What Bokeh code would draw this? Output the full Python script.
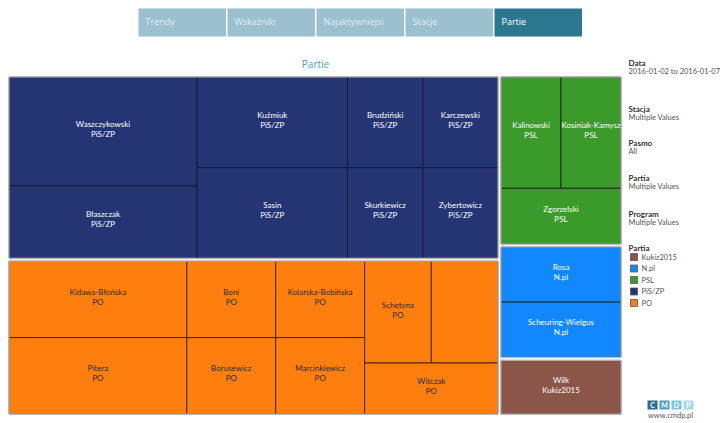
from bokeh.plotting import figure
from bokeh.models import Range1d, ColumnDataSource
from bokeh.embed import file_html
from bokeh.resources import INLINE
from bokeh.core.properties import value

# ---------------- data ----------------
parties = ["PiS/ZP", "PO", "PSL", "N.pl", "Kukiz2015"]
party_colors = ["#253574", "#FF7F0E", "#3A9A2A", "#1188FF", "#8B5549"]
label_colors = ["#FFFFFF", "#2B2B2B", "#FFFFFF", "#FFFFFF", "#FFFFFF"]

pis_names = ["Waszczykowski", "Błaszczak", "Kuźmiuk", "Sasin", "Brudziński",
             "Karczewski", "Skurkiewicz", "Zybertowicz"]
pis_values = [3, 2, 2, 2, 1, 1, 1, 1]
po_names = ["Kidawa-Błońska", "Pitera", "Boni", "Borusewicz", "Kolarska-Bobińska",
            "Marcinkiewicz", "Schetyna", "", "Witczak"]
po_values = [2, 2, 1, 1, 1, 1, 1, 1, 1]
psl_names = ["Kalinowski", "Kosiniak-Kamysz", "Zgorzelski"]
psl_values = [1, 1, 1]
npl_names = ["Rosa", "Scheuring-Wielgus"]
npl_values = [1, 1]
kukiz_names = ["Wilk"]
kukiz_values = [1]

candidate_names = [pis_names, po_names, psl_names, npl_names, kukiz_names]
candidate_values = [pis_values, po_values, psl_values, npl_values, kukiz_values]

legend_order = ["Kukiz2015", "N.pl", "PSL", "PiS/ZP", "PO"]
tabs = ["Trendy", "Wskaźniki", "Najaktywniejsi", "Stacje", "Partie"]
active_tab = "Partie"
filter_titles = ["Data", "Stacja", "Pasmo", "Partia", "Program"]
filter_values = ["2016-01-02 to 2016-01-07", "Multiple Values", "All",
                 "Multiple Values", "Multiple Values"]
title = "Partie"
logo_letters = ["C", "M", "D", "P"]
logo_colors = ["#2E6F8E", "#4E9CC0", "#7EC3E0", "#A8D9EE"]
logo_url = "www.cmdp.pl"

FONT = value("Lato")
TAB_FONT = value("Open Sans")


# ---------------- treemap layout (squarified strips) ----------------
def layout(values, x0, y0, x1, y1):
    rects = [None] * len(values)
    remaining = list(range(len(values)))
    while remaining:
        w, h = x1 - x0, y1 - y0
        if len(remaining) == 1:
            rects[remaining[0]] = (x0, y0, x1, y1)
            break
        rem_total = float(sum(values[i] for i in remaining))
        vertical = w >= h

        def strip_worst(k):
            s = sum(values[i] for i in remaining[:k])
            out = []
            for i in remaining[:k]:
                if vertical:
                    a, b = w * s / rem_total, h * values[i] / s
                else:
                    a, b = w * values[i] / s, h * s / rem_total
                out.append(max(a / b, b / a))
            return max(out)

        k, cur = 1, strip_worst(1)
        while k < len(remaining):
            nxt = strip_worst(k + 1)
            if nxt <= cur or (k == 1 and nxt <= 3.25):
                k, cur = k + 1, nxt
            else:
                break
        strip = remaining[:k]
        s = float(sum(values[i] for i in strip))
        if vertical:
            sw = w * s / rem_total
            yy = y0
            for i in strip:
                ih = h * values[i] / s
                rects[i] = (x0, yy, x0 + sw, yy + ih)
                yy += ih
            x0 += sw
        else:
            sh = h * s / rem_total
            xx = x0
            for i in strip:
                iw = w * values[i] / s
                rects[i] = (xx, y0, xx + iw, y0 + sh)
                xx += iw
            y0 += sh
        remaining = remaining[k:]
    return rects


# ---------------- figure ----------------
W, H = 720, 423
p = figure(width=W, height=H, x_range=Range1d(0, W), y_range=Range1d(H, 0),
           output_backend="svg", toolbar_location=None, min_border=0,
           x_axis_type=None, y_axis_type=None)
p.outline_line_color = None
p.background_fill_color = "white"
p.border_fill_color = "white"

# navigation tabs
tab_x = [138 + i * 89 for i in range(len(tabs))]
tab_fill = ["#2B778F" if t == active_tab else "#9BC0CE" for t in tabs]
tab_text = ["#FFFFFF" if t == active_tab else "#E0EDF2" for t in tabs]
p.quad(left=tab_x, right=[x + 87.5 for x in tab_x], top=[8] * len(tabs), bottom=[36] * len(tabs),
       fill_color=tab_fill, line_color=None)
p.text(x=[x + 7 for x in tab_x], y=[20.5] * len(tabs), text=tabs, text_color=tab_text,
       text_font=TAB_FONT, text_font_size="9px", text_baseline="middle", text_align="left")

# title
p.text(x=[315], y=[63.5], text=[title], text_color="#4A9BC4", text_font=TAB_FONT,
       text_font_size="10px", text_align="center", text_baseline="middle")

# treemap
party_totals = [sum(v) for v in candidate_values]
party_rects = layout(party_totals, 7, 75, 622, 415)
inset = 1.5
cl, cr, ct, cb, cc, names_lbl, party_lbl, lx, ly, lc = [], [], [], [], [], [], [], [], [], []
pl, pr, pt, pb = [], [], [], []
for pi, (x0, y0, x1, y1) in enumerate(party_rects):
    x0, y0, x1, y1 = x0 + inset, y0 + inset, x1 - inset, y1 - inset
    pl.append(x0); pr.append(x1); pt.append(y0); pb.append(y1)
    rects = layout(candidate_values[pi], x0, y0, x1, y1)
    for ci, (a, b, c, d) in enumerate(rects):
        cl.append(a); cr.append(c); ct.append(b); cb.append(d)
        cc.append(party_colors[pi])
        nm = candidate_names[pi][ci]
        if nm:
            names_lbl.append(nm)
            party_lbl.append(parties[pi])
            lx.append((a + c) / 2)
            ly.append((b + d) / 2)
            lc.append(label_colors[pi])

p.quad(left=cl, right=cr, top=ct, bottom=cb, fill_color=cc, line_color="#111111",
       line_alpha=0.75, line_width=1)
p.quad(left=pl, right=pr, top=pt, bottom=pb, fill_color=None, line_color="#C8C8C8", line_width=1)

src = ColumnDataSource(dict(x=lx, y1=[y - 7.5 for y in ly], y2=[y + 2.5 for y in ly],
                            n=names_lbl, pa=party_lbl, c=lc))
p.text(x="x", y="y1", text="n", text_color="c", source=src, text_font=FONT,
       text_font_size="8px", text_align="center", text_baseline="middle")
p.text(x="x", y="y2", text="pa", text_color="c", source=src, text_font=FONT,
       text_font_size="8px", text_align="center", text_baseline="middle")

# right panel: filters
head_y = [62, 108, 142.5, 177.5, 213]
p.text(x=[628] * len(filter_titles), y=head_y, text=filter_titles, text_color="#333333",
       text_font=FONT, text_font_size="8px", text_font_style="bold",
       text_align="left", text_baseline="middle")
p.text(x=[628] * len(filter_values), y=[y + 8.5 for y in head_y], text=filter_values,
       text_color="#555555", text_font=FONT, text_font_size="7.5px",
       text_align="left", text_baseline="middle")

# legend
p.text(x=[628], y=[247], text=["Partia"], text_color="#333333", text_font=FONT,
       text_font_size="8px", text_font_style="bold", text_align="left", text_baseline="middle")
leg_y = [256.5 + i * 11.5 for i in range(len(legend_order))]
leg_col = [party_colors[parties.index(n)] for n in legend_order]
p.rect(x=[633.5] * len(legend_order), y=leg_y, width=7, height=7, fill_color=leg_col,
       line_color="#555555", line_width=0.8)
p.text(x=[641] * len(legend_order), y=leg_y, text=legend_order, text_color="#555555",
       text_font=FONT, text_font_size="7.5px", text_align="left", text_baseline="middle")

# logo
lg_x = [647 + i * 12 for i in range(len(logo_letters))]
p.quad(left=lg_x, right=[x + 10 for x in lg_x], top=[400] * 4, bottom=[409] * 4,
       fill_color=logo_colors, line_color=None)
p.text(x=[x + 5 for x in lg_x], y=[404.5] * 4, text=logo_letters, text_color="white",
       text_font=FONT, text_font_size="7px", text_font_style="bold",
       text_align="center", text_baseline="middle")
p.text(x=[670], y=[415], text=[logo_url], text_color="#555555", text_font=FONT,
       text_font_size="7.5px", text_align="center", text_baseline="middle")

open("out.html", "w").write(file_html(p, INLINE))
